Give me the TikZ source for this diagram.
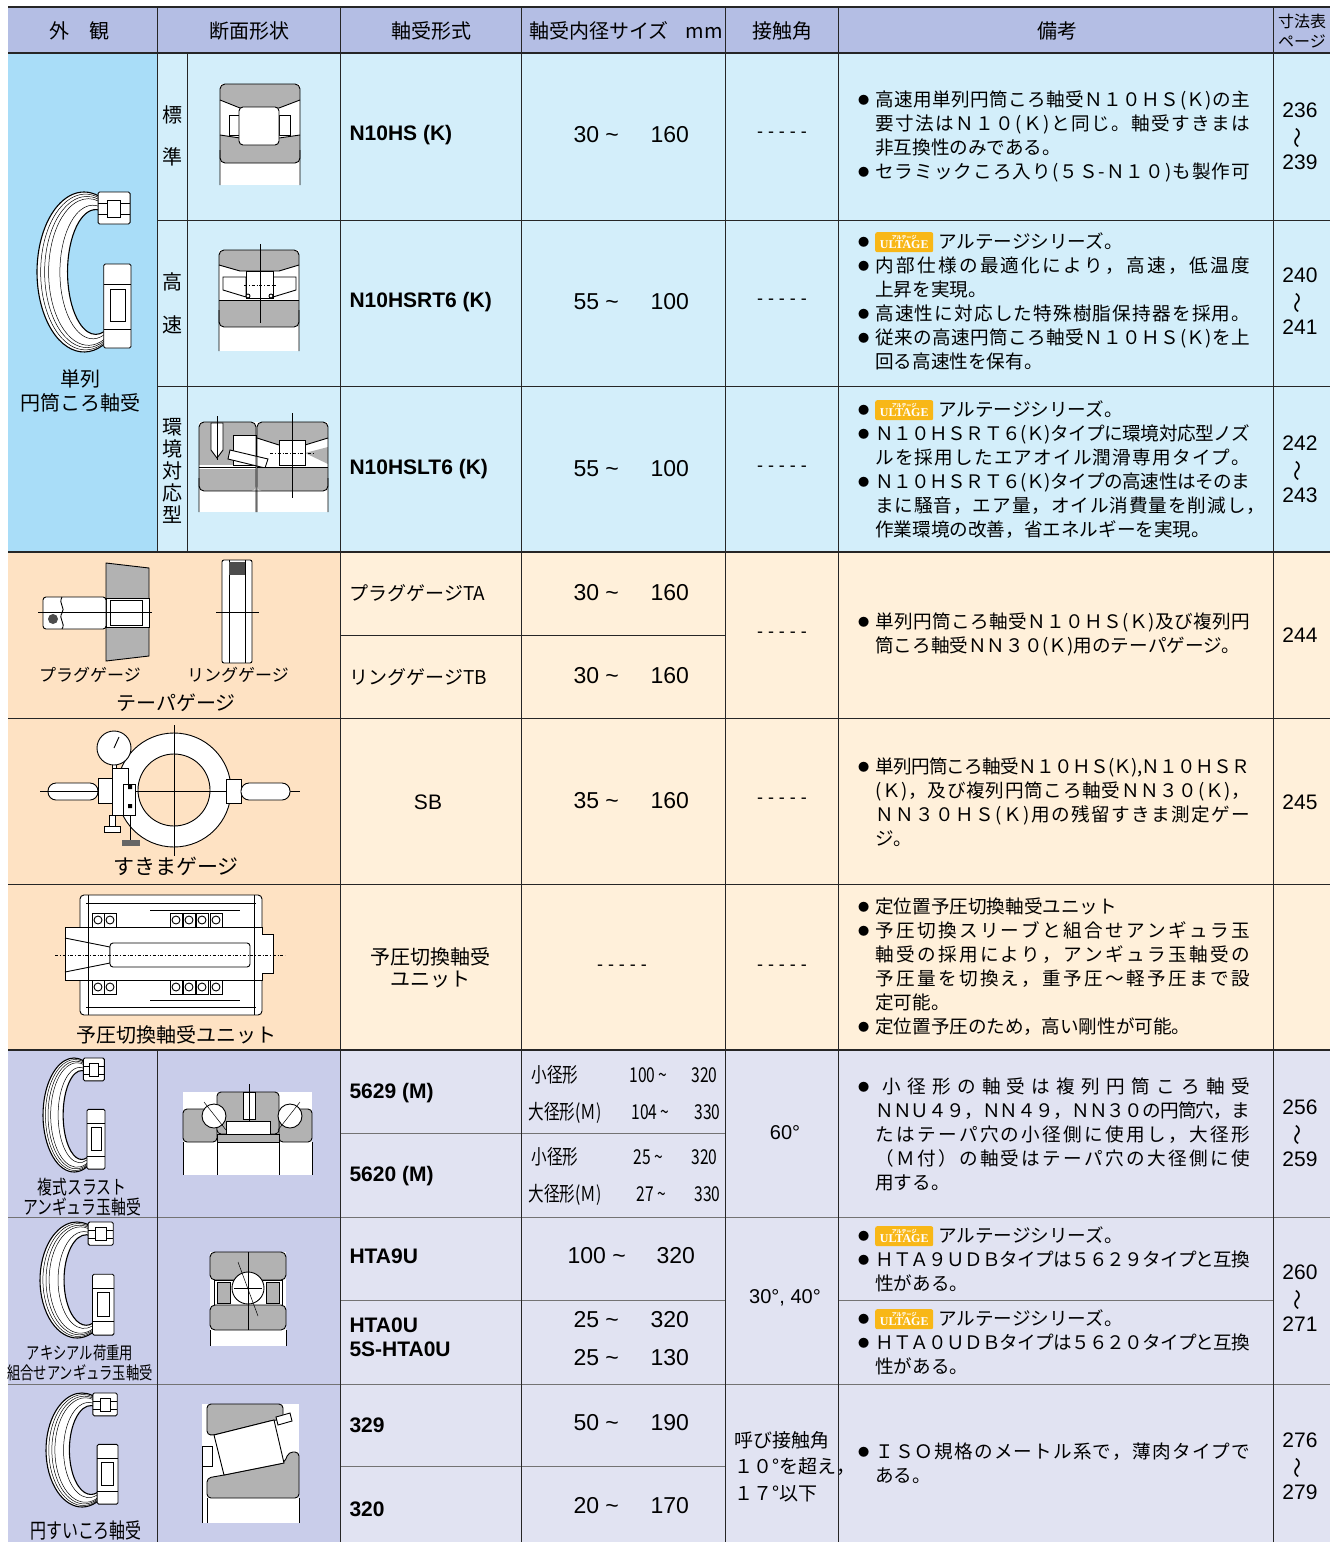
\documentclass[tikz,border=0pt]{standalone}
\usepackage{fontspec}
\usepackage{graphicx}
\usepackage{xcolor}
\setmainfont{Liberation Sans}
\newfontfamily\jp{Noto Sans CJK JP}
\newfontfamily\jpc[FakeStretch=0.76]{Noto Sans CJK JP}
\newfontfamily\ulfont{Liberation Serif}
\definecolor{headblue}{HTML}{B4BEE4}
\definecolor{skyA}{HTML}{A9DDF8}
\definecolor{skyB}{HTML}{D3EEFA}
\definecolor{peachA}{HTML}{FEE2C3}
\definecolor{peachB}{HTML}{FFF0DA}
\definecolor{lilacA}{HTML}{C9CDEA}
\definecolor{lilacB}{HTML}{E1E3F2}
\definecolor{ringgray}{HTML}{B2B2B2}
\definecolor{ultage}{HTML}{F8B717}
\newcommand{\bul}{\makebox[17pt][l]{\raisebox{2.5pt}{\scalebox{0.6}{\jp ●}}}}
\newcommand{\rmind}{\hspace*{17pt}}
% spread a line of characters over a fixed width
\def\spreadchars#1{#1\spreadnext}
\def\spreadnext#1{\ifx#1\relax\else\hskip 0pt plus 1fil minus 2pt\relax#1\expandafter\spreadnext\fi}
\newcommand{\jl}[2][375pt]{\makebox[#1][s]{\spreadchars#2\relax}}
\newcommand{\ultage}{\tikz[baseline={([yshift=-6.5pt]ub.center)}]\node[fill=ultage,rounded corners=2pt,inner sep=0pt,minimum width=58pt,minimum height=20pt,text=white,align=center,font=\ulfont\bfseries\fontsize{12}{8.5}\selectfont] (ub) {{\jp\fontsize{5}{5}\selectfont アルテージ}\\ULTAGE};}
\newcommand{\wave}{\rotatebox[origin=c]{90}{\jp ～}}
\newcommand{\sizerange}[3]{\makebox[#1pt][l]{#2 \textasciitilde}#3}
% perspective view of a ring bearing, cut open on the right
\newcommand{\cring}[4]{%
  \begin{scope}[shift={(#1,#2)},x=#3pt,y=-#4pt]
    \filldraw[fill=white,draw=black,line width=1.1pt]
      (0.574,0.819) arc[start angle=55,end angle=305,radius=1]
      -- (0.594,-0.639) arc[start angle=305,end angle=55,x radius=0.6,y radius=0.78]
      -- cycle;
    \foreach \rr in {0.12,0.25,0.38,0.75}
      \draw[line width=0.5pt] ({0.25*\rr+(1-0.4*\rr)*cos(60)},{(1-0.22*\rr)*sin(60)})
        arc[start angle=60,end angle=300,x radius={1-0.4*\rr},y radius={1-0.22*\rr}];
    \filldraw[fill=white,line width=0.9pt,rounded corners=1.5pt] (0.3,-1.0) rectangle (0.98,-0.6);
    \draw[line width=0.6pt] (0.3,-0.86) -- (0.98,-0.86) (0.3,-0.72) -- (0.98,-0.72);
    \filldraw[fill=white,line width=0.7pt] (0.5,-0.9) rectangle (0.78,-0.68);
    \filldraw[fill=white,line width=0.9pt,rounded corners=1.5pt] (0.42,-0.1) rectangle (1.0,0.95);
    \draw[line width=0.6pt] (0.42,0.15) -- (1.0,0.15) (0.42,0.72) -- (1.0,0.72);
    \filldraw[fill=white,line width=0.7pt] (0.55,0.22) rectangle (0.88,0.62);
  \end{scope}}

\begin{document}
\begin{tikzpicture}[x=1pt,y=-1pt]
    \def\xa{8}
    \def\xb{157}
    \def\xc{187}
    \def\xd{340}
    \def\xe{521}
    \def\xf{725}
    \def\xg{838}
    \def\xh{1273}
    \def\xr{1330}
    \def\ya{7}
    \def\yb{53}
    \def\yc{220}
    \def\yd{386}
    \def\ye{552}
    \def\yf{718}
    \def\yg{884}
    \def\yh{1050}
    \def\yi{1217}
    \def\yj{1384}
    \def\yk{1542}

    \tikzstyle{head}=[font=\jp\fontsize{20}{22}\selectfont]
    \tikzstyle{partname}=[font=\jp\fontsize{20}{24}\selectfont,align=center]
    \tikzstyle{cname}=[font=\jpc\fontsize{17.5}{20}\selectfont,align=center]
    \tikzstyle{model}=[font=\bfseries\fontsize{21}{24}\selectfont,anchor=west,align=left]
    \tikzstyle{jtext}=[font=\jp\fontsize{19}{22}\selectfont]
    \tikzstyle{num}=[font=\fontsize{23}{26}\selectfont,anchor=west]
    \tikzstyle{tinytext}=[font=\jpc\fontsize{20.5}{22}\selectfont,anchor=west]
    \tikzstyle{pageno}=[font=\fontsize{21}{26}\selectfont,align=center]
    \tikzstyle{nodash}=[font=\fontsize{18}{20}\selectfont]
    \tikzstyle{remark}=[font=\jp\fontsize{18.6}{24}\selectfont,anchor=north west,align=left,inner sep=0pt]
    \tikzstyle{rowrule}=[draw=black!85,line width=1pt]
    \tikzstyle{sectrule}=[draw=black!85,line width=2pt]
    \tikzstyle{softrule}=[draw=black!55,line width=1pt]
    \tikzstyle{ring}=[fill=ringgray,draw=black,line width=0.9pt]
    \tikzstyle{whitepart}=[fill=white,draw=black,line width=0.9pt]
    \tikzstyle{edge}=[draw=black,line width=0.9pt]
    \tikzstyle{centerline}=[draw=black,line width=0.5pt]

    \useasboundingbox (0,0) rectangle (1340,1542);

    % backgrounds
    \fill[headblue] (\xa,\ya) rectangle (\xr,\yb);
    \fill[skyA] (\xa,\yb) rectangle (\xb,\ye);
    \fill[skyB] (\xb,\yb) rectangle (\xr,\ye);
    \fill[peachA] (\xa,\ye) rectangle (\xd,\yh);
    \fill[peachB] (\xd,\ye) rectangle (\xr,\yh);
    \fill[lilacA] (\xa,\yh) rectangle (\xd,\yk);
    \fill[lilacB] (\xd,\yh) rectangle (\xr,\yk);

    % ---- cylindrical roller bearings
    \cring{84}{272}{47}{80}

    \fill[white] (220,84) rectangle (300,185);
    \begin{scope}
      \clip[rounded corners=5pt] (220,84) rectangle (300,163);
      \fill[ringgray] (220,84) -- (300,84) -- (300,100) -- (279,108) -- (240,108) -- (220,100) -- cycle;
      \fill[ringgray] (220,135) -- (240,138) -- (279,138) -- (300,135) -- (300,163) -- (220,163) -- cycle;
    \end{scope}
    \draw[edge] (220,100) -- (240,108) -- (279,108) -- (300,100);
    \draw[edge] (220,135) -- (240,138) -- (279,138) -- (300,135);
    \draw[edge,rounded corners=5pt] (220,185) -- (220,84) -- (300,84) -- (300,185);
    \draw[edge,rounded corners=5pt] (220,150) -- (220,163) -- (300,163) -- (300,150);
    \draw[whitepart] (229,115) rectangle (240,135);
    \draw[whitepart] (279,115) rectangle (290,135);
    \draw[whitepart,rounded corners=4pt] (239,107) rectangle (279,145);

    \fill[white] (219,250) rectangle (299,351);
    \begin{scope}
      \clip[rounded corners=5pt] (219,250) rectangle (299,327);
      \fill[ringgray] (219,250) -- (299,250) -- (299,265) -- (279,271) -- (240,271) -- (219,265) -- cycle;
      \fill[ringgray] (219,300) rectangle (299,327);
    \end{scope}
    \draw[edge] (219,265) -- (240,271) -- (279,271) -- (299,265);
    \draw[edge] (219,300) -- (299,300);
    \draw[edge,rounded corners=5pt] (219,351) -- (219,250) -- (299,250) -- (299,351);
    \draw[edge,rounded corners=5pt] (219,310) -- (219,327) -- (299,327) -- (299,310);
    \draw[whitepart] (223,277) -- (246,277) -- (246,297) -- (223,290) -- cycle;
    \draw[whitepart] (273,277) -- (296,277) -- (296,290) -- (273,297) -- cycle;
    \draw[whitepart] (246,271) rectangle (273,298);
    \draw[whitepart] (248,296) circle (2) (271,296) circle (2);
    \draw[centerline] (260,244) -- (260,323);
    \draw[centerline,dash dot] (244,285) -- (276,285);

    \fill[white] (199,422) rectangle (328,512);
    \begin{scope}
      \clip[rounded corners=5pt] (199,422) rectangle (256,491);
      \fill[ringgray] (199,422) rectangle (256,465);
      \fill[ringgray] (199,469) rectangle (256,491);
    \end{scope}
    \draw[whitepart] (233,435) rectangle (256,465);
    \draw[whitepart] (211,423) -- (223,423) -- (223,450) -- (217,458) -- (211,450) -- cycle;
    \draw[whitepart] (230,450) -- (268,459) -- (265,468) -- (228,459) -- cycle;
    \begin{scope}
      \clip[rounded corners=5pt] (257,422) rectangle (328,491);
      \fill[ringgray] (257,422) -- (328,422) -- (328,438) -- (305,445) -- (279,445) -- (257,438) -- cycle;
      \fill[ringgray] (257,467) rectangle (328,491);
      \fill[ringgray] (305,453) -- (328,447) -- (328,464) -- cycle;
    \end{scope}
    \draw[edge] (257,438) -- (279,445) -- (305,445) -- (328,438);
    \draw[edge] (257,467) -- (328,467);
    \draw[edge,rounded corners=5pt] (199,512) -- (199,422) -- (256,422) -- (256,512);
    \draw[edge,rounded corners=5pt] (257,512) -- (257,422) -- (328,422) -- (328,512);
    \draw[edge,rounded corners=5pt] (199,478) -- (199,491) -- (328,491) -- (328,478);
    \draw[edge] (199,467) -- (256,467);
    \draw[whitepart] (279,440) rectangle (305,465);
    \draw[centerline] (292,413) -- (292,498);
    \draw[centerline,dash dot] (270,453) -- (314,453);
    \draw[centerline] (217,416) -- (217,460);

    % ---- taper gauges
    \filldraw[ring] (106,563) -- (149,568) -- (149,656) -- (106,661) -- cycle;
    \filldraw[whitepart] (106,598) rectangle (149,627);
    \draw[edge] (110,600) rectangle (142,625);
    \filldraw[whitepart,rounded corners=3pt] (43,597) rectangle (106,629);
    \draw[edge] (62,597) .. controls (58,604) and (66,608) .. (62,613) .. controls (58,619) and (66,623) .. (62,629);
    \fill[black!70] (53,619) circle (5);
    \draw[centerline] (38,612) -- (152,612);

    \filldraw[whitepart,rounded corners=2pt] (222,560) rectangle (252,663);
    \draw[edge] (229,560) -- (229,663) (245,560) -- (245,663);
    \fill[black!70] (229,562) rectangle (245,575);
    \draw[centerline] (216,612) -- (259,612);

    % ---- clearance gauge
    \draw[centerline] (40,791) -- (300,791);
    \filldraw[whitepart,even odd rule] (174,790) circle (57) (174,790) circle (36);
    \draw[centerline] (174,725) -- (174,856);
    \draw[centerline] (120,791) -- (228,791);
    \filldraw[whitepart,rounded corners=8pt] (48,783) rectangle (98,800);
    \filldraw[whitepart] (98,778) rectangle (114,803);
    \filldraw[whitepart] (112,768) rectangle (128,815);
    \filldraw[whitepart] (123,784) rectangle (135,815);
    \filldraw[whitepart] (112,764) rectangle (116,768);
    \filldraw[whitepart] (114,748) circle (17);
    \draw[edge] (114,748) -- (119,737);
    \filldraw[whitepart] (109,815) rectangle (115,826);
    \filldraw[whitepart] (104,826) rectangle (120,832);
    \fill[black!60] (122,840) rectangle (140,846);
    \draw[edge] (130,815) -- (130,840);
    \filldraw[whitepart] (226,779) rectangle (241,803);
    \filldraw[whitepart,rounded corners=8pt] (241,783) rectangle (290,800);
    \fill[black] (128,785) rectangle (132,789) (128,804) rectangle (132,808);
    \draw[edge] (48,791) -- (98,791);

    % ---- preload switching unit
    \filldraw[whitepart,rounded corners=4pt] (80,895) rectangle (262,1015);
    \draw[edge] (86,903) -- (256,903) (86,1007) -- (256,1007);
    \draw[edge] (150,910) -- (240,910) (150,1000) -- (240,1000);
    \filldraw[whitepart] (65,927) -- (262,927) -- (262,934) -- (273,934) -- (273,973) -- (262,973) -- (262,980) -- (65,980) -- cycle;
    \draw[edge] (65,938) -- (110,947) -- (110,963) -- (65,972);
    \filldraw[whitepart,rounded corners=3pt] (110,943) rectangle (250,967);
    \foreach \bx in {92,104,170,183,196,210}
    {
      \filldraw[whitepart] (\bx,913) rectangle (\bx+12,927);
      \draw[edge] (\bx+6,920) circle (4);
      \filldraw[whitepart] (\bx,980) rectangle (\bx+12,994);
      \draw[edge] (\bx+6,987) circle (4);
    }
    \draw[edge] (88,895) -- (88,1015) (254,895) -- (254,1015);
    \draw[centerline,dash dot] (55,955) -- (285,955);

    % ---- angular contact ball bearings and tapered roller bearing
    \cring{74}{1115}{31}{57}
    \cring{77}{1280}{37}{58}
    \cring{82}{1450}{36}{57}

    \fill[white] (183,1092) rectangle (312,1175);
    \filldraw[ring,rounded corners=4pt] (183,1109) rectangle (217,1142);
    \filldraw[ring,rounded corners=4pt] (279,1109) rectangle (312,1142);
    \filldraw[ring,rounded corners=4pt] (217,1092) rectangle (279,1134);
    \filldraw[ring] (217,1134) rectangle (279,1142);
    \filldraw[whitepart] (243,1092) rectangle (255,1119);
    \filldraw[whitepart] (226,1121) rectangle (270,1134);
    \filldraw[whitepart] (214,1116) circle (12);
    \filldraw[whitepart] (290,1116) circle (12);
    \draw[centerline] (204,1102) -- (226,1130) (300,1102) -- (278,1130);
    \draw[centerline] (249,1084) -- (249,1122);
    \draw[edge] (183,1142) -- (183,1175) (217,1142) -- (217,1175) (279,1142) -- (279,1175) (312,1142) -- (312,1175);

    \fill[white] (210,1252) rectangle (286,1346);
    \filldraw[ring,rounded corners=5pt] (210,1252) rectangle (286,1280);
    \filldraw[whitepart] (214,1280) rectangle (282,1305);
    \filldraw[ring] (217,1282) rectangle (230,1303);
    \filldraw[ring] (266,1282) rectangle (279,1303);
    \filldraw[ring,rounded corners=5pt] (210,1305) rectangle (286,1330);
    \filldraw[whitepart] (248,1288) circle (16);
    \draw[edge] (210,1330) -- (210,1346) (286,1330) -- (286,1346);
    \draw[centerline] (248,1252) -- (248,1330);
    \draw[centerline] (238,1262) -- (258,1316);
    \draw[centerline] (234,1288) -- (262,1288);

    \fill[white] (202,1404) rectangle (299,1523);
    \filldraw[ring,rounded corners=4pt] (207,1435) -- (207,1404) -- (283,1404) -- (283,1420) -- (274,1420) -- (214,1435) -- cycle;
    \filldraw[ring,rounded corners=4pt] (207,1498) -- (207,1478) -- (224,1475) -- (284,1463) -- (289,1452) -- (299,1452) -- (299,1498) -- cycle;
    \filldraw[whitepart] (214,1435) -- (274,1420) -- (284,1463) -- (224,1475) -- cycle;
    \filldraw[whitepart] (202,1446) rectangle (212,1466);
    \filldraw[whitepart] (276,1417) -- (290,1413) -- (292,1421) -- (278,1425) -- cycle;
    \draw[edge] (202,1466) -- (202,1523) (207,1498) -- (207,1523) (299,1498) -- (299,1523);

    % ---- rules
    \draw[rowrule] (\xb,\yc) -- (\xr,\yc);
    \draw[rowrule] (\xb,\yd) -- (\xr,\yd);
    \draw[rowrule] (\xa,\yf) -- (\xr,\yf);
    \draw[rowrule] (\xa,\yg) -- (\xr,\yg);
    \draw[softrule] (\xa,\yi) -- (\xr,\yi);
    \draw[softrule] (\xa,\yj) -- (\xr,\yj);
    \draw[rowrule] (\xd,635) -- (\xf,635);
    \draw[softrule] (\xd,1133) -- (\xf,1133);
    \draw[softrule] (\xd,1300) -- (\xf,1300);
    \draw[softrule] (\xg,1300) -- (\xh,1300);
    \draw[softrule] (\xd,1466) -- (\xf,1466);
    \draw[rowrule] (\xb,\ya) -- (\xb,\ye);
    \draw[rowrule] (\xb,\yh) -- (\xb,\yk);
    \draw[rowrule] (\xc,\yb) -- (\xc,\ye);
    \foreach \x in {\xd,\xe,\xf,\xg,\xh}
      \draw[rowrule] (\x,\ya) -- (\x,\yk);
    \draw[sectrule] (\xa,\ya) -- (\xr,\ya);
    \draw[sectrule] (\xa,\yb) -- (\xr,\yb);
    \draw[sectrule] (\xa,\ye) -- (\xr,\ye);
    \draw[sectrule] (\xa,\yh) -- (\xr,\yh);

    % ---- header
    \node[head] (h1) at (79,31) {外　観};
    \node[head] (h2) at (249,31) {断面形状};
    \node[head] (h3) at (431,31) {軸受形式};
    \node[head] (h4) at (626,31) {軸受内径サイズ\hspace{17pt}mm};
    \node[head] (h5) at (782,31) {接触角};
    \node[head] (h6) at (1057,31) {備考};
    \node[font=\jp\fontsize{16}{20}\selectfont,align=center] (h7) at (1302,31) {寸法表\\ページ};

    % ---- appearance column
    \node[partname] (a1) at (80,391) {単列\\円筒ころ軸受};
    \node[font=\jp\fontsize{17}{20}\selectfont] (a2) at (90,675) {プラグゲージ};
    \node[font=\jp\fontsize{17}{20}\selectfont] (a3) at (238,675) {リングゲージ};
    \node[partname] (a4) at (176,703) {テーパゲージ};
    \node[partname,font=\jp\fontsize{21}{24}\selectfont] (a5) at (176,866) {すきまゲージ};
    \node[partname] (a6) at (176,1035) {予圧切換軸受ユニット};
    \node[cname,font=\jpc\fontsize{19.5}{20}\selectfont] (a7) at (82,1197) {複式スラスト\\アンギュラ玉軸受};
    \node[cname] (a8) at (80,1363) {アキシアル荷重用\\組合せアンギュラ玉軸受};
    \node[cname,font=\jpc\fontsize{21}{20}\selectfont] (a9) at (86,1530) {円すいころ軸受};

    \node[partname,font=\jp\fontsize{20}{42}\selectfont] (k1) at (172,136) {標\\準};
    \node[partname,font=\jp\fontsize{20}{43}\selectfont] (k2) at (172,303) {高\\速};
    \node[partname,font=\jp\fontsize{20}{22}\selectfont] (k3) at (172,471) {環\\境\\対\\応\\型};

    % ---- bearing type column
    \node[model] (m1) at (346,135) {N10HS (K)};
    \node[model] (m2) at (346,302) {N10HSRT6 (K)};
    \node[model] (m3) at (346,469) {N10HSLT6 (K)};
    \node[jtext,anchor=west] (m4) at (346,593) {プラグゲージTA};
    \node[jtext,anchor=west] (m5) at (346,677) {リングゲージTB};
    \node[font=\fontsize{21}{24}\selectfont] (m6) at (428,802) {SB};
    \node[jtext,align=center,font=\jp\fontsize{20}{22}\selectfont] (m7) at (430,968) {予圧切換軸受\\ユニット};
    \node[model] (m8) at (346,1093) {5629 (M)};
    \node[model] (m9) at (346,1176) {5620 (M)};
    \node[model] (m10) at (346,1256) {HTA9U};
    \node[model] (m11) at (346,1337) {HTA0U\\5S-HTA0U};
    \node[model] (m12) at (346,1425) {329};
    \node[model] (m13) at (346,1509) {320};

    % ---- bore size column
    \node[num] (d1) at (570,135) {\sizerange{77}{30}{160}};
    \node[num] (d2) at (570,302) {\sizerange{77}{55}{100}};
    \node[num] (d3) at (570,469) {\sizerange{77}{55}{100}};
    \node[num] (d4) at (570,593) {\sizerange{77}{30}{160}};
    \node[num] (d5) at (570,676) {\sizerange{77}{30}{160}};
    \node[num] (d6) at (570,801) {\sizerange{77}{35}{160}};
    \node[nodash] (d7) at (622,968) {- - - - -};
    \node[tinytext] (d8) at (528,1075) {\makebox[98pt][l]{小径形}\makebox[62pt][l]{100 \textasciitilde}320};
    \node[tinytext] (d9) at (525,1113) {\makebox[103pt][l]{大径形(Ｍ)}\makebox[63pt][l]{104 \textasciitilde}330};
    \node[tinytext] (d10) at (528,1157) {\makebox[102pt][l]{小径形}\makebox[58pt][l]{25 \textasciitilde}320};
    \node[tinytext] (d11) at (525,1195) {\makebox[108pt][l]{大径形(Ｍ)}\makebox[58pt][l]{27 \textasciitilde}330};
    \node[num] (d12) at (564,1256) {\sizerange{89}{100}{320}};
    \node[num] (d13) at (570,1320) {\sizerange{77}{25}{320}};
    \node[num] (d14) at (570,1358) {\sizerange{77}{25}{130}};
    \node[num] (d15) at (570,1423) {\sizerange{77}{50}{190}};
    \node[num] (d16) at (570,1506) {\sizerange{77}{20}{170}};

    % ---- contact angle column
    \node[nodash] (c1) at (782,135) {- - - - -};
    \node[nodash] (c2) at (782,302) {- - - - -};
    \node[nodash] (c3) at (782,469) {- - - - -};
    \node[nodash] (c4) at (782,635) {- - - - -};
    \node[nodash] (c5) at (782,801) {- - - - -};
    \node[nodash] (c6) at (782,968) {- - - - -};
    \node[font=\fontsize{20}{22}\selectfont] (c7) at (785,1133) {60\textdegree};
    \node[font=\fontsize{20}{22}\selectfont] (c8) at (785,1298) {30\textdegree, 40\textdegree};
    \node[font=\jp\fontsize{19}{26.5}\selectfont,anchor=north west,align=left,inner sep=0pt] (c9) at (734,1431) {呼び接触角\\１０\textdegree を超え，\\１７\textdegree 以下};

    % ---- remarks column
    \node[remark] (r1) at (858,91) {\bul\jl{高速用単列円筒ころ軸受Ｎ１０ＨＳ(Ｋ)の主}\\
      \rmind\jl{要寸法はＮ１０(Ｋ)と同じ。軸受すきまは}\\
      \rmind 非互換性のみである。\\
      \bul\jl{セラミックころ入り(５Ｓ-Ｎ１０)も製作可}};
    \node[remark] (r2) at (858,232) {\bul\ultage\hspace{5pt}アルテージシリーズ。\\
      \bul\jl{内部仕様の最適化により，高速，低温度}\\
      \rmind 上昇を実現。\\
      \bul\jl{高速性に対応した特殊樹脂保持器を採用。}\\
      \bul\jl{従来の高速円筒ころ軸受Ｎ１０ＨＳ(Ｋ)を上}\\
      \rmind 回る高速性を保有。};
    \node[remark] (r3) at (858,400) {\bul\ultage\hspace{5pt}アルテージシリーズ。\\
      \bul\jl{Ｎ１０ＨＳＲＴ６(Ｋ)タイプに環境対応型ノズ}\\
      \rmind\jl{ルを採用したエアオイル潤滑専用タイプ。}\\
      \bul\jl{Ｎ１０ＨＳＲＴ６(Ｋ)タイプの高速性はそのま}\\
      \rmind\jl[390pt]{まに騒音，エア量，オイル消費量を削減し，}\\
      \rmind 作業環境の改善，省エネルギーを実現。};
    \node[remark] (r4) at (858,613) {\bul\jl{単列円筒ころ軸受Ｎ１０ＨＳ(Ｋ)及び複列円}\\
      \rmind 筒ころ軸受ＮＮ３０(Ｋ)用のテーパゲージ。};
    \node[remark] (r5) at (858,758) {\bul\jl{単列円筒ころ軸受Ｎ１０ＨＳ(Ｋ),Ｎ１０ＨＳＲ}\\
      \rmind\jl{(Ｋ)，及び複列円筒ころ軸受ＮＮ３０(Ｋ)，}\\
      \rmind\jl{ＮＮ３０ＨＳ(Ｋ)用の残留すきま測定ゲー}\\
      \rmind ジ。};
    \node[remark] (r6) at (858,898) {\bul 定位置予圧切換軸受ユニット\\
      \bul\jl{予圧切換スリーブと組合せアンギュラ玉}\\
      \rmind\jl{軸受の採用により，アンギュラ玉軸受の}\\
      \rmind\jl{予圧量を切換え，重予圧～軽予圧まで設}\\
      \rmind 定可能。\\
      \bul 定位置予圧のため，高い剛性が可能。};
    \node[remark] (r7) at (858,1078) {\bul\hspace{7pt}\jl[368pt]{小径形の軸受は複列円筒ころ軸受}\\
      \rmind\jl{ＮＮＵ４９，ＮＮ４９，ＮＮ３０の円筒穴，ま}\\
      \rmind\jl{たはテーパ穴の小径側に使用し，大径形}\\
      \rmind\jl{（Ｍ付）の軸受はテーパ穴の大径側に使}\\
      \rmind 用する。};
    \node[remark] (r8) at (858,1226) {\bul\ultage\hspace{5pt}アルテージシリーズ。\\
      \bul\jl{ＨＴＡ９ＵＤＢタイプは５６２９タイプと互換}\\
      \rmind 性がある。};
    \node[remark] (r9) at (858,1309) {\bul\ultage\hspace{5pt}アルテージシリーズ。\\
      \bul\jl{ＨＴＡ０ＵＤＢタイプは５６２０タイプと互換}\\
      \rmind 性がある。};
    \node[remark] (r10) at (858,1443) {\bul\jl{ＩＳＯ規格のメートル系で，薄肉タイプで}\\
      \rmind ある。};

    % ---- page column
    \node[pageno] (p1) at (1300,136) {236\\{\wave}\\239};
    \node[pageno] (p2) at (1300,301) {240\\{\wave}\\241};
    \node[pageno] (p3) at (1300,469) {242\\{\wave}\\243};
    \node[pageno] (p4) at (1300,635) {244};
    \node[pageno] (p5) at (1300,802) {245};
    \node[pageno] (p6) at (1300,1133) {256\\{\wave}\\259};
    \node[pageno] (p7) at (1300,1298) {260\\{\wave}\\271};
    \node[pageno] (p8) at (1300,1466) {276\\{\wave}\\279};
\end{tikzpicture}
\end{document}
